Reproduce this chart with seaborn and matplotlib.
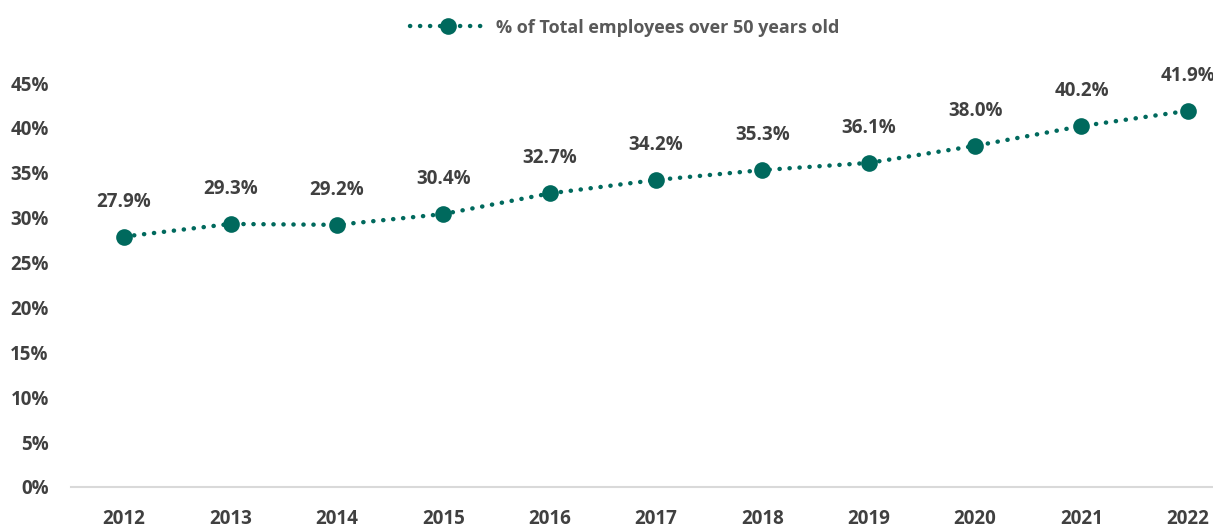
import matplotlib
matplotlib.use("Agg")
import matplotlib.pyplot as plt
import pandas as pd
import seaborn as sns
from matplotlib.lines import Line2D
from matplotlib.ticker import PercentFormatter

years = ["2012", "2013", "2014", "2015", "2016", "2017", "2018", "2019", "2020", "2021", "2022"]
share_over_50 = [27.9, 29.3, 29.2, 30.4, 32.7, 34.2, 35.3, 36.1, 38.0, 40.2, 41.9]
series_name = "% of Total employees over 50 years old"

df = pd.DataFrame({"year": years, "share": share_over_50})

sns.set_theme(style="white")
plt.rcParams["font.family"] = ["Liberation Sans Narrow", "Open Sans", "DejaVu Sans"]
plt.rcParams["font.weight"] = "bold"

teal = "#00695d"
text_col = "#404040"

fig = plt.figure(figsize=(12.13, 5.29), dpi=100)
ax = fig.add_axes([0.0585, 0.0794, 0.9646, 0.7637])

sns.lineplot(data=df, x="year", y="share", ax=ax, color=teal, linewidth=3.2,
             linestyle=(0, (0.05, 2.2)), dash_capstyle="round",
             marker="o", markersize=12, markeredgewidth=0, sort=False)

# data labels above each point
for i, v in enumerate(share_over_50):
    ax.annotate(f"{v:.1f}%", (i, v), xytext=(0, 18), textcoords="offset points",
                ha="center", va="bottom", fontsize=13.5, fontweight="bold", color=text_col)

ax.set_xlim(-0.5, len(years) - 0.5)
ax.set_ylim(0, 45)
ax.set_yticks(range(0, 46, 5))
ax.yaxis.set_major_formatter(PercentFormatter(decimals=0))
ax.set_xlabel("")
ax.set_ylabel("")
ax.tick_params(axis="both", length=0, labelsize=13.5, labelcolor=text_col)
ax.tick_params(axis="y", pad=16)
ax.tick_params(axis="x", pad=16)
for lbl in ax.get_xticklabels() + ax.get_yticklabels():
    lbl.set_fontweight("bold")

for side in ["left", "right", "top"]:
    ax.spines[side].set_visible(False)
ax.spines["bottom"].set_color("#d9d9d9")
ax.spines["bottom"].set_linewidth(1.5)

handle = Line2D([], [], color=teal, linewidth=3.2, linestyle=(0, (0.05, 2.2)),
                dash_capstyle="round", marker="o", markersize=12, markeredgewidth=0)
fig.legend([handle], [series_name], loc="center", bbox_to_anchor=(0.515, 0.948),
           frameon=False, handlelength=4.2, handletextpad=0.6, labelcolor="#595959",
           prop={"weight": "bold", "size": 13})

fig.savefig("out.png", dpi=100)
